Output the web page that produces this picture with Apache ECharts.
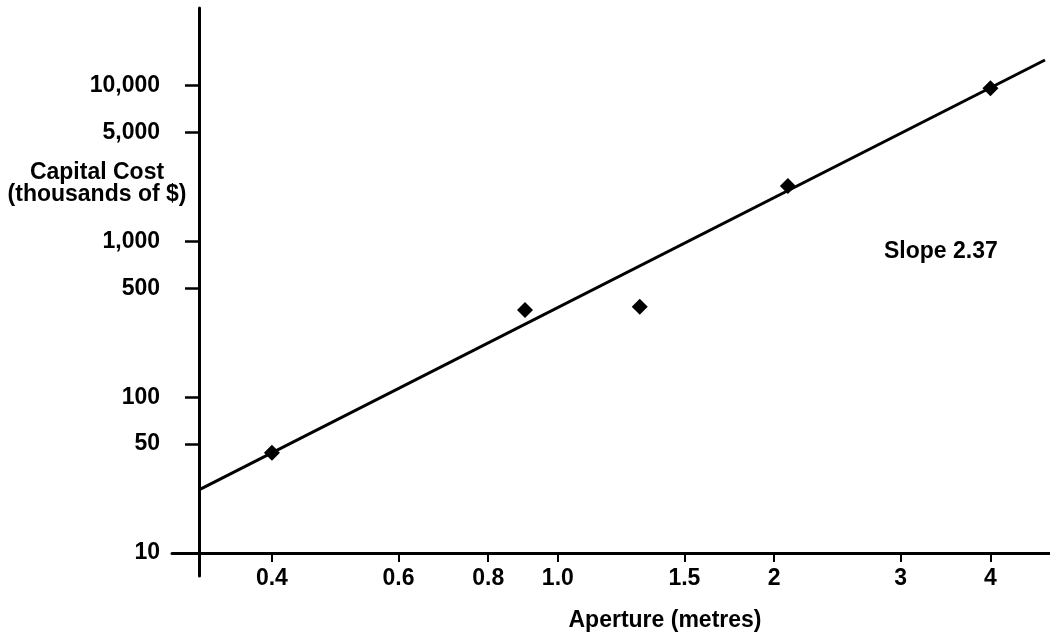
<!DOCTYPE html>
<html>
<head>
<meta charset="utf-8">
<title>Capital Cost vs Aperture</title>
<script src="https://cdn.jsdelivr.net/npm/echarts@6/dist/echarts.min.js"></script>
<style>
  html, body { margin: 0; padding: 0; background: #fff; }
  #chart { width: 1050px; height: 634px; }
</style>
</head>
<body>
<div id="chart"></div>
<script>
// Measured telescopes: aperture (m) and capital cost (thousands of $)
const apertures = [0.4, 0.9, 1.3, 2.09, 4.0];
const costs = [44, 363, 381, 2270, 9620];

// Power-law fit line, drawn between its two end points
const fitApertures = [0.3166, 4.764];
const fitCosts = [25.4, 14590];
const slopeText = 'Slope 2.37';

// Tick values and their printed labels
const xTicks = [0.4, 0.6, 0.8, 1.0, 1.5, 2, 3, 4];
const xTickLabels = ['0.4', '0.6', '0.8', '1.0', '1.5', '2', '3', '4'];
const yTicks = [10, 50, 100, 500, 1000, 5000, 10000];
const yTickLabels = ['10', '50', '100', '500', '1,000', '5,000', '10,000'];

const FONT = '"Liberation Sans", Arial, Helvetica, sans-serif';
const FONT_SIZE = 23;

function lookupLabel(ticks, labels, v) {
  for (let i = 0; i < ticks.length; i++) {
    if (Math.abs(v - ticks[i]) <= Math.abs(ticks[i]) * 1e-6) return labels[i];
  }
  return '';
}

const chart = echarts.init(document.getElementById('chart'), null, { renderer: 'canvas' });

const option = {
  animation: false,
  backgroundColor: '#ffffff',
  grid: {
    left: 172, top: 8, width: 878, height: 568,
    containLabel: false, outerBoundsMode: 'none'
  },
  xAxis: {
    type: 'log',
    logBase: 10,
    min: 0.2904,
    max: 4.841,
    position: 'bottom',
    offset: -23,
    splitLine: { show: false },
    axisLine: { show: true, lineStyle: { color: '#000', width: 3 } },
    axisTick: {
      show: true, inside: false, length: 9,
      customValues: xTicks,
      lineStyle: { color: '#000', width: 2 }
    },
    minorTick: { show: false },
    axisLabel: {
      customValues: xTicks,
      margin: 14,
      color: '#000',
      fontFamily: FONT,
      fontWeight: 'bold',
      fontSize: FONT_SIZE,
      formatter: v => lookupLabel(xTicks, xTickLabels, v)
    }
  },
  yAxis: {
    type: 'log',
    logBase: 10,
    min: 7.119,
    max: 31477,
    position: 'left',
    offset: -27,
    splitLine: { show: false },
    axisLine: { show: true, lineStyle: { color: '#000', width: 3 } },
    axisTick: {
      show: true, inside: false, length: 14,
      customValues: yTicks,
      lineStyle: { color: '#000', width: 2.5 }
    },
    minorTick: { show: false },
    axisLabel: {
      customValues: yTicks,
      margin: 39,
      color: '#000',
      fontFamily: FONT,
      fontWeight: 'bold',
      fontSize: FONT_SIZE,
      formatter: v => lookupLabel(yTicks, yTickLabels, v)
    }
  },
  series: [
    {
      name: 'Fit',
      type: 'line',
      data: fitApertures.map((x, i) => [x, fitCosts[i]]),
      showSymbol: false,
      symbol: 'none',
      lineStyle: { color: '#000', width: 3 },
      z: 2
    },
    {
      name: 'Telescopes',
      type: 'scatter',
      data: apertures.map((x, i) => [x, costs[i]]),
      symbol: 'diamond',
      symbolSize: 16,
      itemStyle: { color: '#000', opacity: 1 },
      z: 3
    }
  ],
  graphic: [
    {
      type: 'text',
      left: 884, top: 240,
      style: {
        text: slopeText,
        fill: '#000',
        font: 'bold ' + FONT_SIZE + 'px ' + FONT
      }
    },
    {
      type: 'text',
      x: 97, y: 184,
      style: {
        text: 'Capital Cost\n(thousands of $)',
        fill: '#000',
        font: 'bold ' + FONT_SIZE + 'px ' + FONT,
        align: 'center',
        verticalAlign: 'middle',
        lineHeight: 22
      }
    },
    {
      type: 'text',
      x: 665, y: 621,
      style: {
        text: 'Aperture (metres)',
        fill: '#000',
        font: 'bold ' + FONT_SIZE + 'px ' + FONT,
        align: 'center',
        verticalAlign: 'middle'
      }
    }
  ]
};

chart.setOption(option);
</script>
</body>
</html>
